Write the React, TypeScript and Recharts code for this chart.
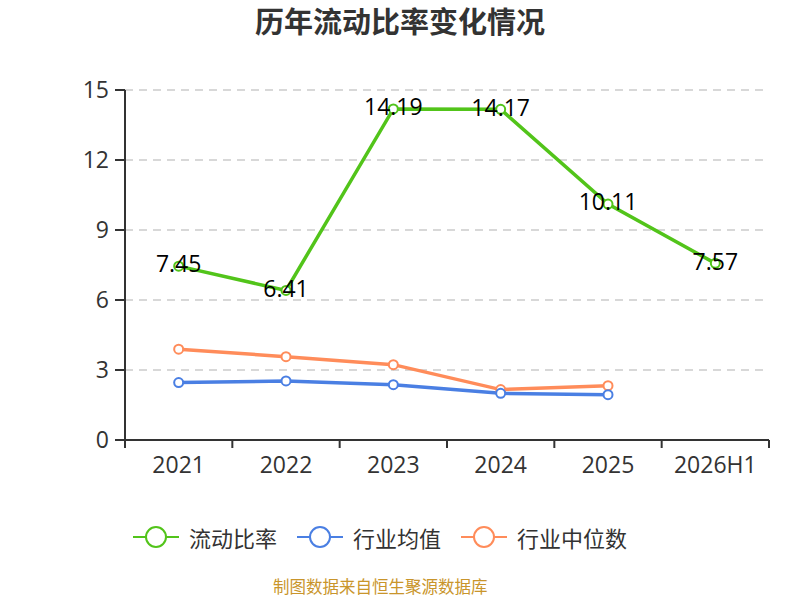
import { CartesianGrid, LabelList, Line, LineChart, XAxis, YAxis } from 'recharts';

const years = ['2021', '2022', '2023', '2024', '2025', '2026H1'];
const currentRatio = [7.45, 6.41, 14.19, 14.17, 10.11, 7.57];
const industryAvg = [2.46, 2.53, 2.37, 2.0, 1.94, null];
const industryMedian = [3.89, 3.57, 3.23, 2.16, 2.33, null];
const yTicks = [0, 3, 6, 9, 12, 15];

const GREEN = '#52c41a';
const BLUE = '#4a7fe3';
const ORANGE = '#ff8c5a';
const FONT = "'Open Sans', 'Noto Sans CJK SC', sans-serif";

const W = 800;
const LEFT = 125;
const RIGHT = 31;
const BAND = (W - LEFT - RIGHT) / years.length;

const data = years.map((year, i) => ({
  year,
  ratio: currentRatio[i],
  avg: industryAvg[i],
  median: industryMedian[i],
}));

const XTick = (props: any) => {
  const { x, y, payload, index } = props;
  const half = BAND / 2;
  return (
    <g>
      <line x1={x - half} y1={y} x2={x - half} y2={y + 8} stroke="#333" strokeWidth={2} />
      {index === years.length - 1 && (
        <line x1={x + half} y1={y} x2={x + half} y2={y + 8} stroke="#333" strokeWidth={2} />
      )}
      <text x={x} y={y + 33} textAnchor="middle" fill="#333" fontSize={23} fontFamily={FONT}>
        {payload.value}
      </text>
    </g>
  );
};

const ValueLabel = (props: any) => {
  const { x, y, value } = props;
  return (
    <text x={x} y={y - 2} dy="0.36em" textAnchor="middle" fill="#000" fontSize={23} fontFamily={FONT}>
      {value}
    </text>
  );
};

const legendItems = [
  { name: '流动比率', color: GREEN },
  { name: '行业均值', color: BLUE },
  { name: '行业中位数', color: ORANGE },
];

export default function App() {
  return (
    <div style={{ position: 'absolute', left: 0, top: 0, width: 800, height: 600, background: '#fff', fontFamily: FONT }}>
      <div
        style={{
          position: 'absolute',
          top: 4,
          width: 800,
          textAlign: 'center',
          fontSize: 29,
          fontWeight: 'bold',
          color: '#333',
          lineHeight: '36px',
        }}
      >
        历年流动比率变化情况
      </div>
      <LineChart width={800} height={500} data={data} margin={{ top: 90, right: RIGHT, bottom: 0, left: 0 }}>
        <CartesianGrid vertical={false} stroke="#ccc" strokeDasharray="8 6" strokeWidth={1.5} />
        <XAxis
          dataKey="year"
          height={60}
          interval={0}
          padding={{ left: BAND / 2, right: BAND / 2 }}
          tickSize={0}
          tickMargin={0}
          tickLine={false}
          axisLine={{ stroke: '#333', strokeWidth: 2 }}
          tick={<XTick />}
        />
        <YAxis
          width={LEFT}
          domain={[0, 15]}
          ticks={yTicks}
          interval={0}
          tickSize={10}
          tickMargin={6}
          axisLine={{ stroke: '#333', strokeWidth: 2 }}
          tickLine={{ stroke: '#333', strokeWidth: 2 }}
          tick={{ fill: '#333', fontSize: 23, fontFamily: FONT }}
        />
        <Line
          dataKey="median"
          stroke={ORANGE}
          strokeWidth={3.5}
          dot={{ r: 4.5, fill: '#fff', stroke: ORANGE, strokeWidth: 2 }}
          isAnimationActive={false}
        />
        <Line
          dataKey="avg"
          stroke={BLUE}
          strokeWidth={3.5}
          dot={{ r: 4.5, fill: '#fff', stroke: BLUE, strokeWidth: 2 }}
          isAnimationActive={false}
        />
        <Line
          dataKey="ratio"
          stroke={GREEN}
          strokeWidth={3.5}
          dot={{ r: 4.5, fill: '#fff', stroke: GREEN, strokeWidth: 2 }}
          isAnimationActive={false}
        >
          <LabelList dataKey="ratio" content={<ValueLabel />} />
        </Line>
      </LineChart>
      <div
        style={{
          position: 'absolute',
          left: 133,
          top: 522,
          display: 'flex',
          alignItems: 'center',
          height: 30,
        }}
      >
        {legendItems.map((item) => (
          <div key={item.name} style={{ display: 'flex', alignItems: 'center', marginRight: 20 }}>
            <svg width={46} height={26}>
              <line x1={0} y1={13} x2={46} y2={13} stroke={item.color} strokeWidth={2} />
              <circle cx={23} cy={13} r={10} fill="#fff" stroke={item.color} strokeWidth={2} />
            </svg>
            <span style={{ marginLeft: 10, fontSize: 22, color: '#333', fontFamily: "'Noto Sans CJK SC', sans-serif" }}>
              {item.name}
            </span>
          </div>
        ))}
      </div>
      <div
        style={{
          position: 'absolute',
          left: 273,
          top: 576,
          fontSize: 16.5,
          lineHeight: '20px',
          color: '#c9952b',
          fontFamily: "'Noto Sans CJK SC', sans-serif",
        }}
      >
        制图数据来自恒生聚源数据库
      </div>
    </div>
  );
}
